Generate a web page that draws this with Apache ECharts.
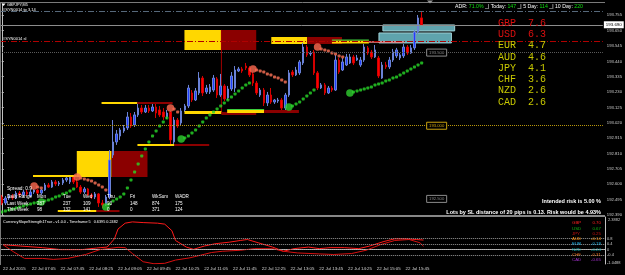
<!DOCTYPE html>
<html>
<head>
<meta charset="utf-8">
<script src="https://cdn.jsdelivr.net/npm/echarts@6/dist/echarts.min.js"></script>
<style>
html,body{margin:0;padding:0;background:#000;}
#chart{width:625px;height:275px;}
</style>
</head>
<body>
<div id="chart"></div>
<script>
// GBPJPY M5, 22 Jul 2015 — bars 0..117, then empty chart-shift space
const BARS = 168;
const tickLabels = ['22 Jul 2015','22 Jul 07:05','22 Jul 07:45','22 Jul 08:25','22 Jul 09:05','22 Jul 09:45',
  '22 Jul 10:25','22 Jul 11:05','22 Jul 11:45','22 Jul 12:25','22 Jul 13:05','22 Jul 13:45','22 Jul 14:25',
  '22 Jul 15:05','22 Jul 15:45'];

// [open, close, low, high]
const candles = [
[192.513,192.472,192.458,192.527],[192.472,192.506,192.458,192.520],[192.506,192.520,192.493,192.534],
[192.520,192.506,192.493,192.534],[192.506,192.540,192.499,192.554],[192.540,192.527,192.513,192.554],
[192.527,192.547,192.520,192.561],[192.547,192.534,192.520,192.561],[192.520,192.547,192.513,192.561],
[192.547,192.561,192.534,192.568],[192.561,192.540,192.527,192.568],[192.540,192.561,192.527,192.568],
[192.561,192.595,192.554,192.609],[192.595,192.581,192.575,192.609],[192.581,192.616,192.575,192.629],
[192.616,192.602,192.588,192.629],[192.602,192.609,192.588,192.622],[192.609,192.629,192.595,192.643],
[192.629,192.643,192.616,192.657],[192.616,192.650,192.602,192.663],[192.650,192.616,192.602,192.657],
[192.616,192.581,192.575,192.636],[192.581,192.547,192.534,192.595],[192.547,192.568,192.534,192.581],
[192.568,192.527,192.520,192.575],[192.527,192.513,192.499,192.540],[192.513,192.534,192.499,192.547],
[192.534,192.472,192.445,192.540],[192.472,192.458,192.438,192.493],[192.458,192.513,192.452,192.527],
[192.513,192.766,192.499,192.834],[192.800,192.889,192.780,193.039],[192.889,192.944,192.869,192.971],
[192.930,192.971,192.903,192.985],[192.964,192.985,192.951,193.005],[192.985,193.060,192.971,193.094],
[193.060,192.998,192.985,193.087],[193.005,193.074,192.992,193.094],[193.074,193.121,193.060,193.149],
[193.121,193.094,193.080,193.142],[193.094,193.121,193.087,193.142],[193.121,193.101,193.087,193.142],
[193.101,193.128,193.094,193.156],[193.128,193.087,193.053,193.149],[193.108,193.074,193.060,193.135],
[193.094,193.060,193.039,193.121],[193.060,193.087,193.046,193.108],[193.094,192.903,192.869,193.101],
[192.889,193.039,192.876,193.060],[193.039,192.998,192.985,193.053],[193.019,193.101,193.005,193.121],
[193.108,193.135,193.094,193.149],[193.135,193.258,193.121,193.279],[193.224,193.176,193.162,193.244],
[193.176,193.238,193.169,193.258],[193.224,193.326,193.210,193.367],[193.326,193.224,193.203,193.340],
[193.231,193.258,193.217,193.279],[193.231,193.265,193.217,193.285],[193.244,193.326,193.231,193.347],
[193.320,193.210,193.190,193.333],[193.210,193.272,193.197,193.354],[193.272,193.183,193.169,193.285],
[193.190,193.251,193.176,193.272],[193.251,193.340,193.238,193.367],[193.258,193.381,193.231,193.408],
[193.374,193.388,193.367,193.402],[193.388,193.374,193.361,193.402],[193.408,193.395,193.381,193.429],
[193.395,193.347,193.333,193.408],[193.354,193.292,193.272,193.367],[193.292,193.224,193.210,193.306],
[193.210,193.244,193.197,193.258],[193.244,193.156,193.135,193.258],[193.156,193.210,193.135,193.231],
[193.210,193.162,193.149,193.258],[193.162,193.176,193.149,193.183],[193.169,193.176,193.156,193.190],
[193.176,193.121,193.094,193.190],[193.121,193.210,193.094,193.224],[193.210,193.361,193.197,193.381],
[193.367,193.347,193.333,193.381],[193.347,193.381,193.340,193.402],[193.361,193.436,193.347,193.449],
[193.429,193.538,193.415,193.566],[193.538,193.484,193.470,193.552],[193.491,193.497,193.477,193.511],
[193.504,193.361,193.347,193.518],[193.361,193.258,193.244,193.374],[193.258,193.279,193.251,193.292],
[193.279,193.224,193.210,193.292],[193.224,193.258,193.217,193.272],[193.258,193.244,193.231,193.272],
[193.244,193.449,193.238,193.484],[193.449,193.367,193.354,193.463],[193.381,193.436,193.374,193.463],
[193.415,193.470,193.408,193.491],[193.429,193.470,193.422,193.491],[193.470,193.429,193.415,193.484],
[193.449,193.463,193.443,193.484],[193.415,193.449,193.402,193.470],[193.449,193.538,193.436,193.559],
[193.532,193.497,193.484,193.545],[193.504,193.470,193.456,193.518],[193.470,193.518,193.463,193.552],
[193.463,193.340,193.326,193.477],[193.326,193.415,193.320,193.436],[193.415,193.402,193.388,193.436],
[193.402,193.449,193.388,193.470],[193.449,193.504,193.436,193.525],[193.477,193.518,193.463,193.532],
[193.463,193.484,193.449,193.497],[193.477,193.538,193.463,193.559],[193.538,193.497,193.484,193.552],
[193.497,193.532,193.491,193.552],[193.532,193.641,193.518,193.655],[193.641,193.737,193.627,193.757],
[193.737,193.689,193.682,193.778]
];

// parabolic SAR: [bar, price]
const sellStarts = [[9,192.588],[21,192.650],[47,193.121],[70,193.388],[88,193.538]];
const sellDots = [[10,192.581],[11,192.575],[22,192.643],[23,192.636],[24,192.629],[25,192.622],[26,192.609],
  [27,192.595],[28,192.581],[29,192.561],[48,193.115],[49,193.094],[71,193.381],[72,193.374],[73,193.367],
  [74,193.354],[75,193.347],[76,193.333],[77,193.326],[78,193.313],[79,193.299],[89,193.525],[90,193.518],
  [91,193.511],[92,193.497],[93,193.491],[94,193.477],[95,193.470]];
const buyStarts = [[11,192.479],[29,192.445],[50,192.910],[80,193.128],[97,193.224]];
const buyDots = [[0,192.411],[1,192.417],[2,192.424],[3,192.431],[4,192.438],[5,192.445],[6,192.452],[7,192.458],
  [8,192.465],[9,192.472],[10,192.475],[12,192.486],[13,192.493],[14,192.499],[15,192.513],[16,192.520],
  [17,192.534],[18,192.540],[19,192.554],[20,192.568],
  [30,192.465],[31,192.486],[32,192.499],[33,192.513],[34,192.534],[35,192.575],[36,192.629],[37,192.684],
  [38,192.739],[39,192.793],[40,192.841],[41,192.889],[42,192.930],[43,192.964],[44,192.998],[45,193.026],[46,193.053],
  [51,192.916],[52,192.930],[53,192.951],[54,192.971],[55,192.998],[56,193.026],[57,193.053],[58,193.074],
  [59,193.094],[60,193.115],[61,193.135],[62,193.156],[63,193.176],[64,193.197],[65,193.217],[66,193.238],
  [67,193.258],[68,193.279],[69,193.292],
  [81,193.135],[82,193.149],[83,193.162],[84,193.183],[85,193.203],[86,193.224],[87,193.244],
  [98,193.231],[99,193.238],[100,193.244],[101,193.251],[102,193.258],[103,193.265],[104,193.279],[105,193.285],
  [106,193.292],[107,193.306],[108,193.313],[109,193.326],[110,193.333],[111,193.347],[112,193.361],[113,193.374],
  [114,193.388],[115,193.402],[116,193.415],[117,193.429]];

// zones: [fromBar, toBar, top, bottom, kind]
const zones = [
  [20.9, 30.6, 192.827, 192.650, 'base'], [30.6, 40.6, 192.827, 192.650, 'ext'],
  [50.9, 61.2, 193.655, 193.518, 'base'], [61.2, 70.9, 193.655, 193.518, 'ext'],
  [75.1, 85.1, 193.607, 193.559, 'base'], [85.1, 94.8, 193.607, 193.559, 'ext'],
  [106.2, 126.2, 193.689, 193.648, 'target'], [105.1, 125.3, 193.634, 193.566, 'target']
];
// pivot lines: [fromBar, toBar, price, kind]
const pivots = [
  [8.7, 20.9, 192.657, 'base'],
  [15.6, 26.4, 192.417, 'base'], [26.4, 32.8, 192.417, 'ext'],
  [27.8, 37.8, 193.156, 'base'], [37.8, 47.6, 193.156, 'ext'],
  [37.8, 48.1, 192.869, 'base'], [48.1, 57.8, 192.869, 'ext'],
  [50.9, 61.2, 193.091, 'baseWide'], [61.2, 70.9, 193.084, 'extWide'],
  [62.8, 73.1, 193.098, 'fresh'], [73.1, 82.8, 193.098, 'extWide'],
  [92.0, 102.3, 193.573, 'fresh'], [102.3, 112.0, 193.573, 'touched']
];
// vertical zone link: [bar, top, bottom]
const stems = [[61.2, 193.655, 193.084]];
const tpLevel = 193.778;
const slLevel = 193.579;
const roundLevels = [193.500, 193.000, 192.500];
const bid = candles[candles.length - 1][1];
const TAG_BAR = 118.4;

const currencies = ['GBP','USD','EUR','AUD','JPY','CHF','NZD','CAD'];
const strength = [7.6, 6.3, 4.7, 4.6, 4.1, 3.6, 2.6, 2.6];

const weekCols = ['Mon','Tue','Wed','Thu','Fri','WkSum','WADR'];
const lastWeek = [287, 237, 109, 93, 148, 874, 175];
const thisWeek = [98, 132, 141, 0, 0, 371, 124];

// currency slope strength sub window
const slopeGBP = [[0,0.362],[5,0.262],[11,0.147],[16,0.004],[22,0.004],[26,0.118],[29,0.190],[31,0.791],[32,1.508],
  [34,1.937],[36,2.030],[39,1.980],[43,1.937],[45,1.866],[47,1.386],[48,0.670],[51,0.190],[53,0.025],[56,0.262],
  [59,0.433],[63,0.548],[66,0.670],[68,0.742],[71,0.505],[75,0.190],[78,-0.118],[81,0.075],[85,0.190],[88,0.075],
  [91,0.147],[95,0.147],[99,0.075],[102,0.262],[106,0.598],[109,0.791],[112,0.791],[115,0.742],[117,0.70]];
const slopeJPY = [[0,0.362],[3,-0.168],[6,-0.640],[11,-0.640],[14,-0.712],[18,-0.640],[23,-0.354],[27,0.004],
  [32,0.169],[34,0.147],[36,-0.283],[39,-0.884],[42,-1.030],[45,-0.999],[48,-0.762],[52,-0.598],[55,-0.404],
  [58,-0.211],[61,-0.118],[66,-0.046],[70,0.075],[75,0.075],[78,-0.118],[82,-0.240],[88,-0.311],[92,-0.354],
  [97,-0.283],[101,-0.046],[105,0.362],[109,0.670],[113,0.742],[116,0.505],[117,0.25]];
const slopeLevels = [0.8, 0.4, 0.0, -0.4];
const slopeNames = ['GBP','USD','JPY','AUD','EUR','NZD','CHF','CAD'];
const slopeNow = [0.70, 0.67, 0.25, -0.14, -0.18, -0.24, -0.31, -0.65];

const curColor = {GBP:'#ff2020', USD:'#10b010', JPY:'#c81010', AUD:'#ff9010', EUR:'#20b8f0', NZD:'#10a8a8', CHF:'#e07020', CAD:'#a030c8'};
const zoneFill = {base:'#ffd700', ext:'#8b0000', target:'#5fa3ad'};
const pivotFill = {base:['#ffd700',2], ext:['#8b0000',2], baseWide:['#ffd700',3], extWide:['#8b0000',3],
  fresh:['#ffd700',3], touched:['#f08080',1.5]};

const categories = [];
for (let i = 0; i < BARS; i++) categories.push(String(i));

const FONT = 'Liberation Sans';
function txt(text, x, y, fill, size, extra) {
  return Object.assign({type:'text', x:x, y:y, silent:true, z:50,
    style:Object.assign({text:text, fill:fill, fontSize:size, fontFamily:FONT, textVerticalAlign:'middle'}, extra || {})});
}
function line(x1, y1, x2, y2, stroke, w) {
  return {type:'line', silent:true, z:40, shape:{x1:x1, y1:y1, x2:x2, y2:y2}, style:{stroke:stroke, lineWidth:w}};
}

const g = [];
g.push(line(0, 2.5, 605, 2.5, '#7a7a7a', 1));
g.push(line(0.5, 2, 0.5, 265, '#7a7a7a', 1));
g.push(line(0, 216, 605, 216, '#b4b4b4', 1.5));
g.push({type:'polygon', silent:true, z:50, shape:{points:[[427,0.5],[433,0.5],[430,3.5]]}, style:{fill:'#9a9a9a'}});
g.push({type:'polygon', silent:true, z:50, shape:{points:[[1.5,3.5],[5.5,3.5],[3.5,6]]}, style:{fill:'#ffffff'}});
g.push(txt('GBPJPY,M5', 7, 5, '#ffffff', 3.8));
g.push(txt('#SYN0014 tp 3.14', 3, 9.5, '#ffffff', 4));
g.push(txt('#SYN0014 sl', 3, 38.5, '#ffffff', 4));
g.push({type:'text', x:455, y:7, silent:true, z:50, style:{
  text:'{w|ADR: }{g|71.0%}{w| _| Today: }{g|147}{w| _| 5 Day: }{g|114}{w| _| 10 Day: }{g|220}',
  fontFamily:FONT, fontSize:5.2, textVerticalAlign:'middle',
  rich:{w:{fill:'#ffffff', fontSize:5.2, fontFamily:FONT}, g:{fill:'#10e010', fontSize:5.2, fontFamily:FONT}}}});
currencies.forEach(function (c, i) {
  const col = i < 2 ? '#dd1010' : '#c8c800';
  g.push(txt(c, 498, 23 + i * 11.3, col, 10, {fontFamily:'Liberation Mono'}));
  g.push(txt(strength[i].toFixed(1), 528, 23 + i * 11.3, col, 10, {fontFamily:'Liberation Mono'}));
});
g.push(txt('Intended risk is 5.00 %', 601, 201, '#ffffff', 5.5, {fontWeight:'bold', textAlign:'right'}));
g.push(txt('Lots by SL distance of 20 pips is 0.13. Risk would be 4.93%', 601, 212, '#ffffff', 5.5, {fontWeight:'bold', textAlign:'right'}));
// weekly range table
const colX = [37, 63, 83, 107, 130, 152, 175];
g.push(txt('Spread: 0.9', 7, 189, '#ffffff', 4.8));
g.push(txt('Daily Range', 7, 197, '#ffffff', 4.6));
g.push(txt('Last Week', 7, 203.5, '#ffffff', 4.6));
g.push(txt('This Week', 7, 210, '#ffffff', 4.6));
weekCols.forEach(function (n, i) {
  g.push(txt(n, colX[i], 197, '#ffffff', 4.6));
  g.push(txt(String(lastWeek[i]), colX[i], 203.5, '#ffffff', 4.6));
  g.push(txt(String(thisWeek[i]), colX[i], 210, '#ffffff', 4.6));
});
// sub window texts
g.push(txt('CurrencySlopeStrength1True - v1.0.0 - Timeframe:5   0.6395 0.2482', 3, 222, '#ffffff', 3.8));
slopeNames.forEach(function (c, i) {
  g.push(txt(c, 572, 223 + i * 5.3, curColor[c], 4.4));
  g.push(txt(slopeNow[i].toFixed(2), 601, 223 + i * 5.3, curColor[c], 4.4, {textAlign:'right'}));
});
g.push(txt('2.3882', 608, 219.5, '#c8c8c8', 4));
g.push(txt('-1.0488', 607, 262.5, '#c8c8c8', 4));

const dash = [6, 2, 1, 2];

const option = {
  backgroundColor:'#000000',
  animation:false,
  grid:[
    {left:0, right:20, top:4, height:211},
    {left:0, right:20, top:217, height:47}
  ],
  xAxis:[
    {type:'category', gridIndex:0, data:categories, boundaryGap:true, show:false},
    {type:'value', gridIndex:0, min:-0.5, max:BARS - 0.5, show:false},
    {type:'category', gridIndex:1, data:categories, boundaryGap:true,
      axisLine:{lineStyle:{color:'#c0c0c0', width:1}},
      axisTick:{interval:7, alignWithLabel:true, length:2, lineStyle:{color:'#c0c0c0'}},
      axisLabel:{interval:7, align:'left', color:'#d6d6d6', fontSize:4.4, fontFamily:FONT, margin:3,
        formatter:function (v, i) { return tickLabels[i / 8] || ''; }}}
  ],
  yAxis:[
    {type:'value', gridIndex:0, position:'right', min:192.390, max:193.832, interval:0.105,
      axisLine:{show:true, lineStyle:{color:'#c0c0c0'}},
      axisTick:{show:true, length:2, lineStyle:{color:'#c0c0c0'}},
      axisLabel:{color:'#cccccc', fontSize:4.2, fontFamily:FONT, margin:4, showMaxLabel:false,
        formatter:function (v) { return v.toFixed(3); }},
      splitLine:{show:false}},
    {type:'value', gridIndex:1, position:'right', min:-1.0488, max:2.3882,
      axisLine:{show:true, lineStyle:{color:'#c0c0c0'}}, axisTick:{show:false}, axisLabel:{show:false},
      splitLine:{show:false}}
  ],
  series:[
    {type:'custom', name:'zones', xAxisIndex:1, yAxisIndex:0, z:1, silent:true,
      data:zones.map(function (z) { return [z[0], z[1], z[2], z[3]]; }),
      renderItem:function (params, api) {
        const z = zones[params.dataIndex];
        const a = api.coord([api.value(0), api.value(2)]);
        const b = api.coord([api.value(1), api.value(3)]);
        return {type:'rect', shape:{x:a[0], y:a[1], width:b[0] - a[0], height:b[1] - a[1]},
          style:{fill:zoneFill[z[4]], stroke:z[4] === 'target' ? '#9fd0d6' : null, lineWidth:1}};
      }},
    {type:'custom', name:'stems', xAxisIndex:1, yAxisIndex:0, z:1, silent:true,
      data:stems,
      renderItem:function (params, api) {
        const a = api.coord([api.value(0), api.value(1)]);
        const b = api.coord([api.value(0), api.value(2)]);
        return {type:'line', shape:{x1:a[0], y1:a[1], x2:b[0], y2:b[1]}, style:{stroke:'#a00000', lineWidth:1}};
      }},
    {type:'candlestick', name:'GBPJPY', xAxisIndex:0, yAxisIndex:0, z:2, barWidth:2,
      data:candles,
      itemStyle:{color:'#1f3dff', color0:'#ff0000', borderColor:'#6a82d6', borderColor0:'#d40000', borderWidth:1},
      markLine:{silent:true, symbol:'none', animation:false,
        data:[
          {yAxis:tpLevel, lineStyle:{color:'#56687a', type:dash, width:1}, label:{show:false}},
          {yAxis:slLevel, lineStyle:{color:'#b00000', type:dash, width:1}, label:{show:false}},
          {yAxis:roundLevels[0], lineStyle:{color:'#5a5a5a', type:'dotted', width:1}, label:{show:false}},
          {yAxis:roundLevels[1], lineStyle:{color:'#b8960c', type:'dotted', width:1}, label:{show:false}},
          {yAxis:bid, lineStyle:{color:'#8c8c8c', type:'solid', width:1},
            label:{show:true, position:'end', distance:1, formatter:function (p) { return p.value.toFixed(3); },
              backgroundColor:'#ffffff', color:'#000000', fontSize:4.4, fontFamily:FONT, padding:[1.5, 2]}}
        ]}},
    {type:'custom', name:'pivots', xAxisIndex:1, yAxisIndex:0, z:3, silent:true,
      data:pivots.map(function (p) { return [p[0], p[1], p[2]]; }),
      renderItem:function (params, api) {
        const p = pivots[params.dataIndex];
        const st = pivotFill[p[3]];
        const a = api.coord([api.value(0), api.value(2)]);
        const b = api.coord([api.value(1), api.value(2)]);
        const kids = [{type:'rect', shape:{x:a[0], y:a[1] - st[1] / 2, width:b[0] - a[0], height:st[1]}, style:{fill:st[0]}}];
        if (p[3] === 'fresh') {
          kids.push({type:'rect', shape:{x:a[0], y:a[1] - st[1] / 2 - 1, width:b[0] - a[0], height:1}, style:{fill:'#3ccf3c'}});
        }
        return {type:'group', children:kids};
      }},
    {type:'custom', name:'roundTags', xAxisIndex:1, yAxisIndex:0, z:6, silent:true,
      data:roundLevels.map(function (v) { return [TAG_BAR, v]; }),
      renderItem:function (params, api) {
        const pt = api.coord([api.value(0), api.value(1)]);
        const col = params.dataIndex === 1 ? '#c8a010' : '#8a8a8a';
        return {type:'group', children:[
          {type:'rect', shape:{x:pt[0], y:pt[1] - 3.5, width:20, height:7}, style:{fill:'#000', stroke:col, lineWidth:1}},
          {type:'text', x:pt[0] + 10, y:pt[1], style:{text:api.value(1).toFixed(3), fill:col, fontSize:4.2,
            fontFamily:FONT, textAlign:'center', textVerticalAlign:'middle'}}
        ]};
      }},
    {type:'scatter', name:'sarSell', xAxisIndex:0, yAxisIndex:0, z:4, symbol:'roundRect', symbolSize:3,
      data:sellDots, itemStyle:{color:'#ff7358'}},
    {type:'scatter', name:'sarSellStart', xAxisIndex:0, yAxisIndex:0, z:5, symbol:'circle', symbolSize:7.5,
      data:sellStarts, itemStyle:{color:'#ff6a50'}},
    {type:'scatter', name:'sarBuy', xAxisIndex:0, yAxisIndex:0, z:4, symbol:'roundRect', symbolSize:3,
      data:buyDots, itemStyle:{color:'#28d828'}},
    {type:'scatter', name:'sarBuyStart', xAxisIndex:0, yAxisIndex:0, z:5, symbol:'circle', symbolSize:7.5,
      data:buyStarts, itemStyle:{color:'#2fcf2f'}},
    {type:'line', name:'GBP', xAxisIndex:2, yAxisIndex:1, data:slopeGBP, showSymbol:false,
      lineStyle:{color:'#ff1a1a', width:1},
      markLine:{silent:true, symbol:'none', animation:false,
        lineStyle:{color:'#9a9a9a', type:'dotted', width:1},
        label:{show:true, position:'end', distance:2, color:'#c8c8c8', fontSize:4, fontFamily:FONT,
          formatter:function (p) { return String(p.value); }},
        data:slopeLevels.map(function (v) { return {yAxis:v}; })}},
    {type:'line', name:'JPY', xAxisIndex:2, yAxisIndex:1, data:slopeJPY, showSymbol:false,
      lineStyle:{color:'#d81010', width:1}}
  ],
  graphic:{elements:g}
};

const chart = echarts.init(document.getElementById('chart'), null, {renderer:'canvas'});
chart.setOption(option);
</script>
</body>
</html>
